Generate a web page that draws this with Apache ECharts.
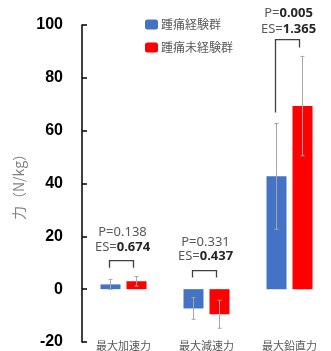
<!DOCTYPE html>
<html><head><meta charset="utf-8">
<script src="https://cdn.jsdelivr.net/npm/echarts@6/dist/echarts.min.js"></script>
<style>html,body{margin:0;padding:0;background:#fff}#c{width:331px;height:351px}</style>
</head><body><div id="c"></div>
<script>
const categories = ['最大加速力', '最大減速力', '最大鉛直力'];
const seriesNames = ['踵痛経験群', '踵痛未経験群'];
const meanPain = [1.8, -7.3, 42.7];
const meanNoPain = [3.0, -9.5, 69.3];
const sdPain = [1.9, 4.1, 20.0];
const sdNoPain = [1.8, 5.3, 18.8];
const pValues = ['0.138', '0.331', '0.005'];
const pBold = [false, false, true];
const esValues = ['0.674', '0.437', '1.365'];
// bracket: [top, left drop end, right drop end]
const bracketTop = [10.8, 7.0, 94.5];
const bracketLeftEnd = [8.1, 4.4, 66.9];
const bracketRightEnd = [8.1, 4.4, 91.5];
const pTextY = [21.4, 17.6, 104.4];
const esTextY = [15.7, 12.3, 98.3];
const yTicks = {min: -20, max: 100, interval: 20};

const BLUE = '#4472C4', RED = '#FF0000', GRAY = '#595959';
const BAR_W = 20, BAR_HALF_SEP = 13;

function errData(means, sds) {
  return means.map((m, i) => [i, m - sds[i], m + sds[i]]);
}

function errRender(offset) {
  return function (params, api) {
    const i = api.value(0);
    const lo = api.coord([i, api.value(1)]);
    const hi = api.coord([i, api.value(2)]);
    const x = lo[0] + offset;
    const cw = 2;
    return {
      type: 'group',
      children: [
        {type: 'line', shape: {x1: x, y1: lo[1], x2: x, y2: hi[1]}, style: {stroke: '#A6A6A6', lineWidth: 1}},
        {type: 'line', shape: {x1: x - cw, y1: lo[1], x2: x + cw, y2: lo[1]}, style: {stroke: '#A6A6A6', lineWidth: 1}},
        {type: 'line', shape: {x1: x - cw, y1: hi[1], x2: x + cw, y2: hi[1]}, style: {stroke: '#A6A6A6', lineWidth: 1}}
      ]
    };
  };
}

const annData = categories.map((c, i) => [i, bracketTop[i], bracketLeftEnd[i], bracketRightEnd[i], pTextY[i], esTextY[i]]);

function annRender(params, api) {
  const i = api.value(0);
  const top = api.coord([i, api.value(1)]);
  const le = api.coord([i, api.value(2)]);
  const re = api.coord([i, api.value(3)]);
  const pY = api.coord([i, api.value(4)])[1];
  const eY = api.coord([i, api.value(5)])[1];
  const cx = top[0];
  const xl = cx - 14, xr = cx + 10;
  const pText = pBold[i] ? 'P=' + '{b|' + pValues[i] + '}' : 'P=' + pValues[i];
  const eText = 'ES=' + '{b|' + esValues[i] + '}';
  const rich = {b: {fontWeight: 'bold', fill: '#262626', fontSize: 13, fontFamily: 'Noto Sans'}};
  return {
    type: 'group',
    children: [
      {type: 'polyline', shape: {points: [[xl, le[1]], [xl, top[1]], [xr, top[1]], [xr, re[1]]]},
        style: {stroke: '#404040', lineWidth: 1.3, fill: null}},
      {type: 'text', style: {text: pText, x: cx - 1, y: pY, align: 'center', verticalAlign: 'middle',
        fill: GRAY, fontSize: 13, fontFamily: 'Noto Sans', rich: rich}},
      {type: 'text', style: {text: eText, x: cx - 1, y: eY, align: 'center', verticalAlign: 'middle',
        fill: GRAY, fontSize: 13, fontFamily: 'Noto Sans', rich: rich}}
    ]
  };
}

const chart = echarts.init(document.getElementById('c'), null, {renderer: 'canvas'});
chart.setOption({
  animation: false,
  backgroundColor: '#fff',
  grid: {left: 82, top: 25, bottom: 9, width: 267, containLabel: false},
  legend: {
    orient: 'vertical', left: 145, top: 18, padding: 0, itemWidth: 13, itemHeight: 10, itemGap: 10,
    data: seriesNames,
    textStyle: {color: GRAY, fontSize: 12, lineHeight: 13, padding: [0, 0, 0, -2], fontFamily: 'Noto Sans CJK JP'}
  },
  xAxis: {
    type: 'category', data: categories,
    axisLine: {show: false, onZero: false}, axisTick: {show: false},
    axisLabel: {margin: -2, color: GRAY, fontSize: 11, fontFamily: 'Noto Sans CJK JP'}
  },
  yAxis: {
    type: 'value', min: yTicks.min, max: yTicks.max, interval: yTicks.interval,
    name: '力（N/kg）', nameLocation: 'middle', nameGap: 47, nameRotate: 90,
    nameTextStyle: {color: '#808080', fontSize: 14, fontFamily: 'Noto Sans CJK JP'},
    axisLine: {show: true, lineStyle: {color: '#000', width: 1.5}},
    axisTick: {show: true, inside: true, length: 5, lineStyle: {color: '#000', width: 1.5}},
    splitLine: {show: false},
    axisLabel: {margin: 19, color: '#000', fontSize: 16, fontWeight: 'bold', fontFamily: 'Liberation Sans'}
  },
  series: [
    {name: seriesNames[0], type: 'bar', data: meanPain, barWidth: BAR_W, barGap: '30%', itemStyle: {color: BLUE}},
    {name: seriesNames[1], type: 'bar', data: meanNoPain, barWidth: BAR_W, barGap: '30%', itemStyle: {color: RED}},
    {type: 'custom', data: errData(meanPain, sdPain), renderItem: errRender(-BAR_HALF_SEP), z: 5, silent: true, clip: false},
    {type: 'custom', data: errData(meanNoPain, sdNoPain), renderItem: errRender(BAR_HALF_SEP), z: 5, silent: true, clip: false},
    {type: 'custom', data: annData, renderItem: annRender, z: 6, silent: true, clip: false}
  ]
});
</script></body></html>
